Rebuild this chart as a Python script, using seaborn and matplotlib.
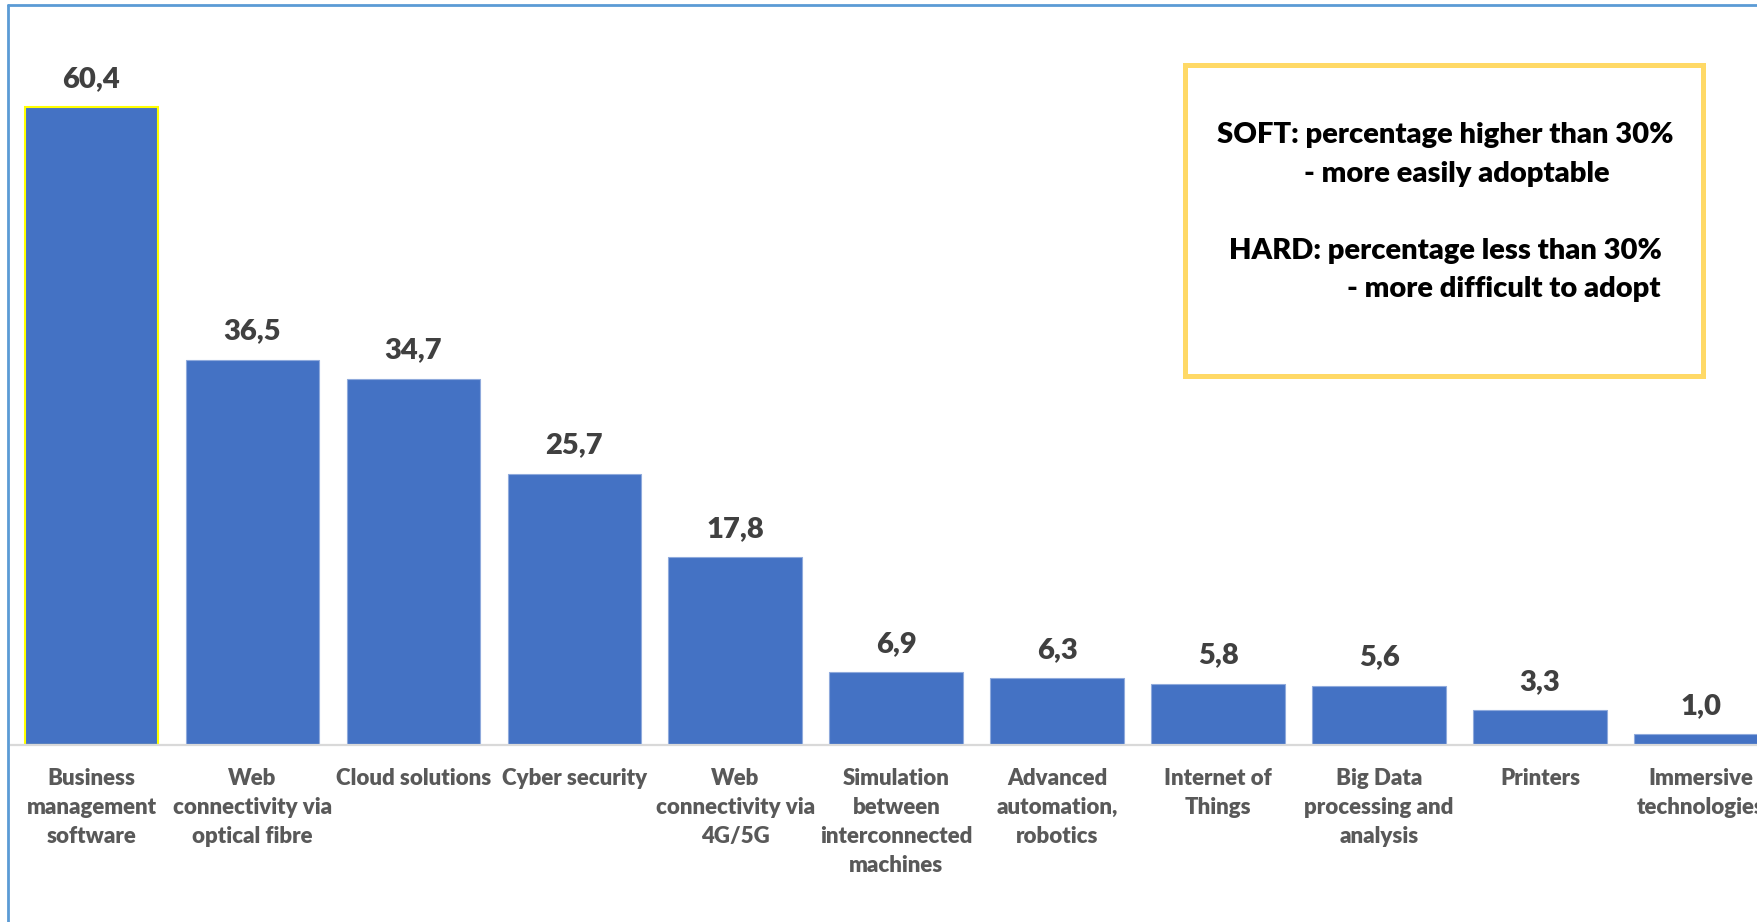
import matplotlib
matplotlib.use('Agg')
import matplotlib.pyplot as plt
import seaborn as sns
from matplotlib.patches import Rectangle
from matplotlib.lines import Line2D

# data
categories = [
    'Business\nmanagement\nsoftware',
    'Web\nconnectivity via\noptical fibre',
    'Cloud solutions',
    'Cyber security',
    'Web\nconnectivity via\n4G/5G',
    'Simulation\nbetween\ninterconnected\nmachines',
    'Advanced\nautomation,\nrobotics',
    'Internet of\nThings',
    'Big Data\nprocessing and\nanalysis',
    'Printers',
    'Immersive\ntechnologies',
]
values = [60.4, 36.5, 34.7, 25.7, 17.8, 6.9, 6.3, 5.8, 5.6, 3.3, 1.0]
value_labels = [f'{v:.1f}'.replace('.', ',') for v in values]

note_lines = [
    'SOFT: percentage higher than 30%',
    '- more easily adoptable',
    'HARD: percentage less than 30%',
    '- more difficult to adopt',
]

sns.set_style('white')
plt.rcParams['font.family'] = ['Lato', 'DejaVu Sans']
WEIGHT = 'heavy'

W, H = 1757, 922
fig = plt.figure(figsize=(W / 100, H / 100), dpi=100)

# axes runs past the right edge, like the cropped original
ax = fig.add_axes([11 / W, (H - 745) / H, 1770.5 / W, 739 / H])
sns.barplot(x=categories, y=values, color='#4472C4', saturation=1,
            width=0.83, edgecolor='#8FAADC', linewidth=0.8, ax=ax)
ax.patches[0].set_edgecolor('#FFFF00')
ax.patches[0].set_linewidth(1.5)

ax.set_xlim(-0.5, 10.5)
ax.set_ylim(0, 70)
ax.set_yticks([])
ax.set_xlabel('')
ax.set_ylabel('')
for side in ['top', 'right', 'left']:
    ax.spines[side].set_visible(False)
ax.spines['bottom'].set_color('#D9D9D9')
ax.spines['bottom'].set_linewidth(1.6)
ax.tick_params(axis='x', length=0, pad=16.5)
for lbl in ax.get_xticklabels():
    lbl.set_fontsize(16)
    lbl.set_fontweight(WEIGHT)
    lbl.set_color('#595959')
    lbl.set_linespacing(1.47)

ax.bar_label(ax.containers[0], labels=value_labels, padding=11,
             fontsize=21, fontweight=WEIGHT, color='#404040')

# note box
fig.add_artist(Rectangle((1185 / W, (H - 376) / H), 518 / W, 311 / H,
                         transform=fig.transFigure, fill=False,
                         edgecolor='#FFD966', linewidth=3.6))
note_x = [1217, 1304, 1229, 1347]
note_y = [135, 174, 251, 289]
for txt, x, y in zip(note_lines, note_x, note_y):
    fig.text(x / W, (H - y) / H, txt, fontsize=21, fontweight=WEIGHT,
             color='black', ha='left', va='center')

# outer frame (left and top only visible)
frame = '#5B9BD5'
fig.add_artist(Line2D([8 / W, 8 / W], [0, (H - 5) / H], color=frame, linewidth=2))
fig.add_artist(Line2D([8 / W, 1], [(H - 5) / H, (H - 5) / H], color=frame, linewidth=2))

fig.savefig('out.png', dpi=100)
